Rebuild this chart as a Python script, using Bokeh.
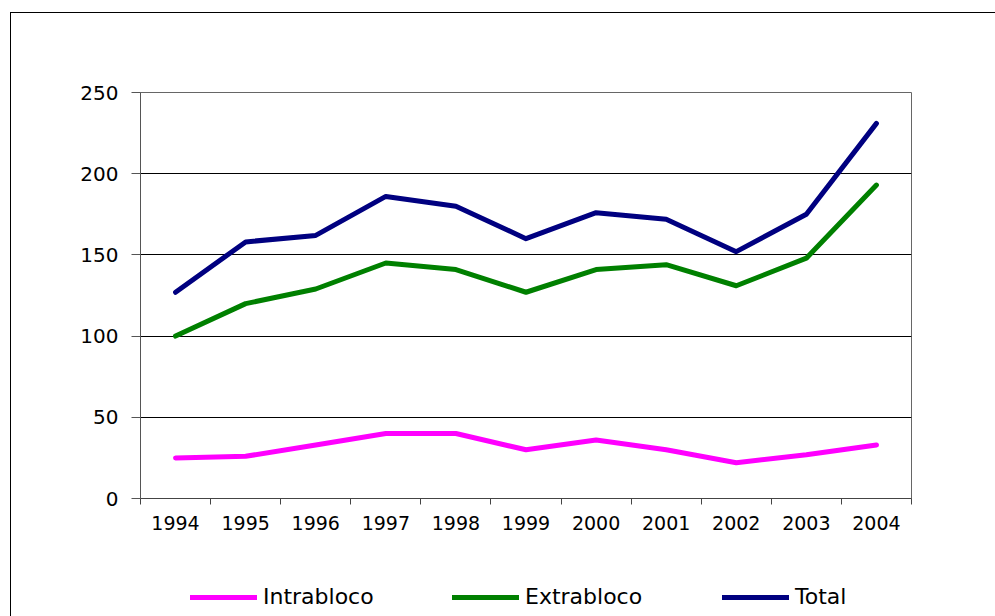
from bokeh.plotting import figure
from bokeh.layouts import column
from bokeh.models import Range1d, FixedTicker, Legend, LegendItem
from bokeh.embed import file_html
from bokeh.resources import INLINE

# Annual values by year
years = ["1994", "1995", "1996", "1997", "1998", "1999",
         "2000", "2001", "2002", "2003", "2004"]
intrabloco = [25, 26, 33, 40, 40, 30, 36, 30, 22, 27, 33]
extrabloco = [100, 120, 129, 145, 141, 127, 141, 144, 131, 148, 193]
total = [127, 158, 162, 186, 180, 160, 176, 172, 152, 175, 231]
y_ticks = [0, 50, 100, 150, 200, 250]

series_names = ["Intrabloco", "Extrabloco", "Total"]
series_colors = ["#FF00FF", "#008000", "#000080"]

FONT = "DejaVu Sans"
LINE_W = 5

# each year sits in the middle of its own slot on a 0..n axis
xs = [i + 0.5 for i in range(len(years))]

p = figure(width=985, height=545, output_backend="svg", toolbar_location=None,
           x_range=Range1d(0, len(years)), y_range=Range1d(0, 250),
           min_border_left=129, min_border_right=85,
           min_border_top=79, min_border_bottom=60)
p.background_fill_color = "white"
p.border_fill_color = "white"
p.outline_line_color = "#666666"
p.outline_line_width = 1

# y axis
p.yaxis.ticker = FixedTicker(ticks=y_ticks)
p.yaxis.axis_line_color = "#555555"
p.yaxis.major_tick_line_color = "#555555"
p.yaxis.major_tick_out = 9
p.yaxis.major_tick_in = 0
p.yaxis.minor_tick_line_color = None
p.yaxis.major_label_text_font = FONT
p.yaxis.major_label_text_font_size = "20px"
p.yaxis.major_label_text_color = "black"
p.yaxis.major_label_standoff = 13

# x axis: labels centred in slots, tick marks on slot boundaries
p.xaxis.ticker = FixedTicker(ticks=xs, minor_ticks=list(range(len(years) + 1)))
p.xaxis.major_label_overrides = {x: y for x, y in zip(xs, years)}
p.xaxis.major_tick_line_color = None
p.xaxis.major_tick_out = 6
p.xaxis.major_tick_in = 0
p.xaxis.minor_tick_line_color = "#444444"
p.xaxis.minor_tick_out = 6
p.xaxis.minor_tick_in = 0
p.xaxis.axis_line_color = "#444444"
p.xaxis.major_label_text_font = FONT
p.xaxis.major_label_text_font_size = "19px"
p.xaxis.major_label_text_color = "black"
p.xaxis.major_label_standoff = 11

p.xgrid.grid_line_color = None
p.ygrid.ticker = FixedTicker(ticks=y_ticks[1:])
p.ygrid.grid_line_color = "black"
p.ygrid.grid_line_width = 1

series = [intrabloco, extrabloco, total]
for vals, color in zip(series, series_colors):
    p.line(xs, vals, line_color=color, line_width=LINE_W,
           line_join="round", line_cap="round")

# legend strip underneath the chart; its frame lines up with the chart's,
# and its y range sits far above the data so only the legend shows
lg = figure(width=985, height=58, output_backend="svg", toolbar_location=None,
            x_range=Range1d(0, len(years)), y_range=Range1d(1000, 1001),
            x_axis_location=None, y_axis_location=None,
            min_border=0, min_border_left=0, min_border_right=0,
            min_border_top=0, min_border_bottom=0)
lg.grid.visible = False
lg.outline_line_color = None
lg.border_fill_color = "white"
lg.background_fill_color = "white"

legend_x = [50, 312, 582]
for name, vals, color, lx in zip(series_names, series, series_colors, legend_x):
    r = lg.line(xs, vals, line_color=color, line_width=LINE_W, line_cap="round")
    lg.add_layout(Legend(items=[LegendItem(label=name, renderers=[r])],
                         location=(lx, 7), orientation="horizontal",
                         glyph_width=67, glyph_height=24, label_standoff=6,
                         padding=0, margin=0, border_line_color=None,
                         background_fill_alpha=0,
                         label_text_font=FONT, label_text_font_size="22px",
                         label_text_color="black"))

layout = column(p, lg, spacing=0)
layout.margin = (12, 0, 0, 10)
layout.styles = {"border-top": "1px solid black", "border-left": "1px solid black"}

open("out.html", "w").write(file_html(layout, INLINE))
